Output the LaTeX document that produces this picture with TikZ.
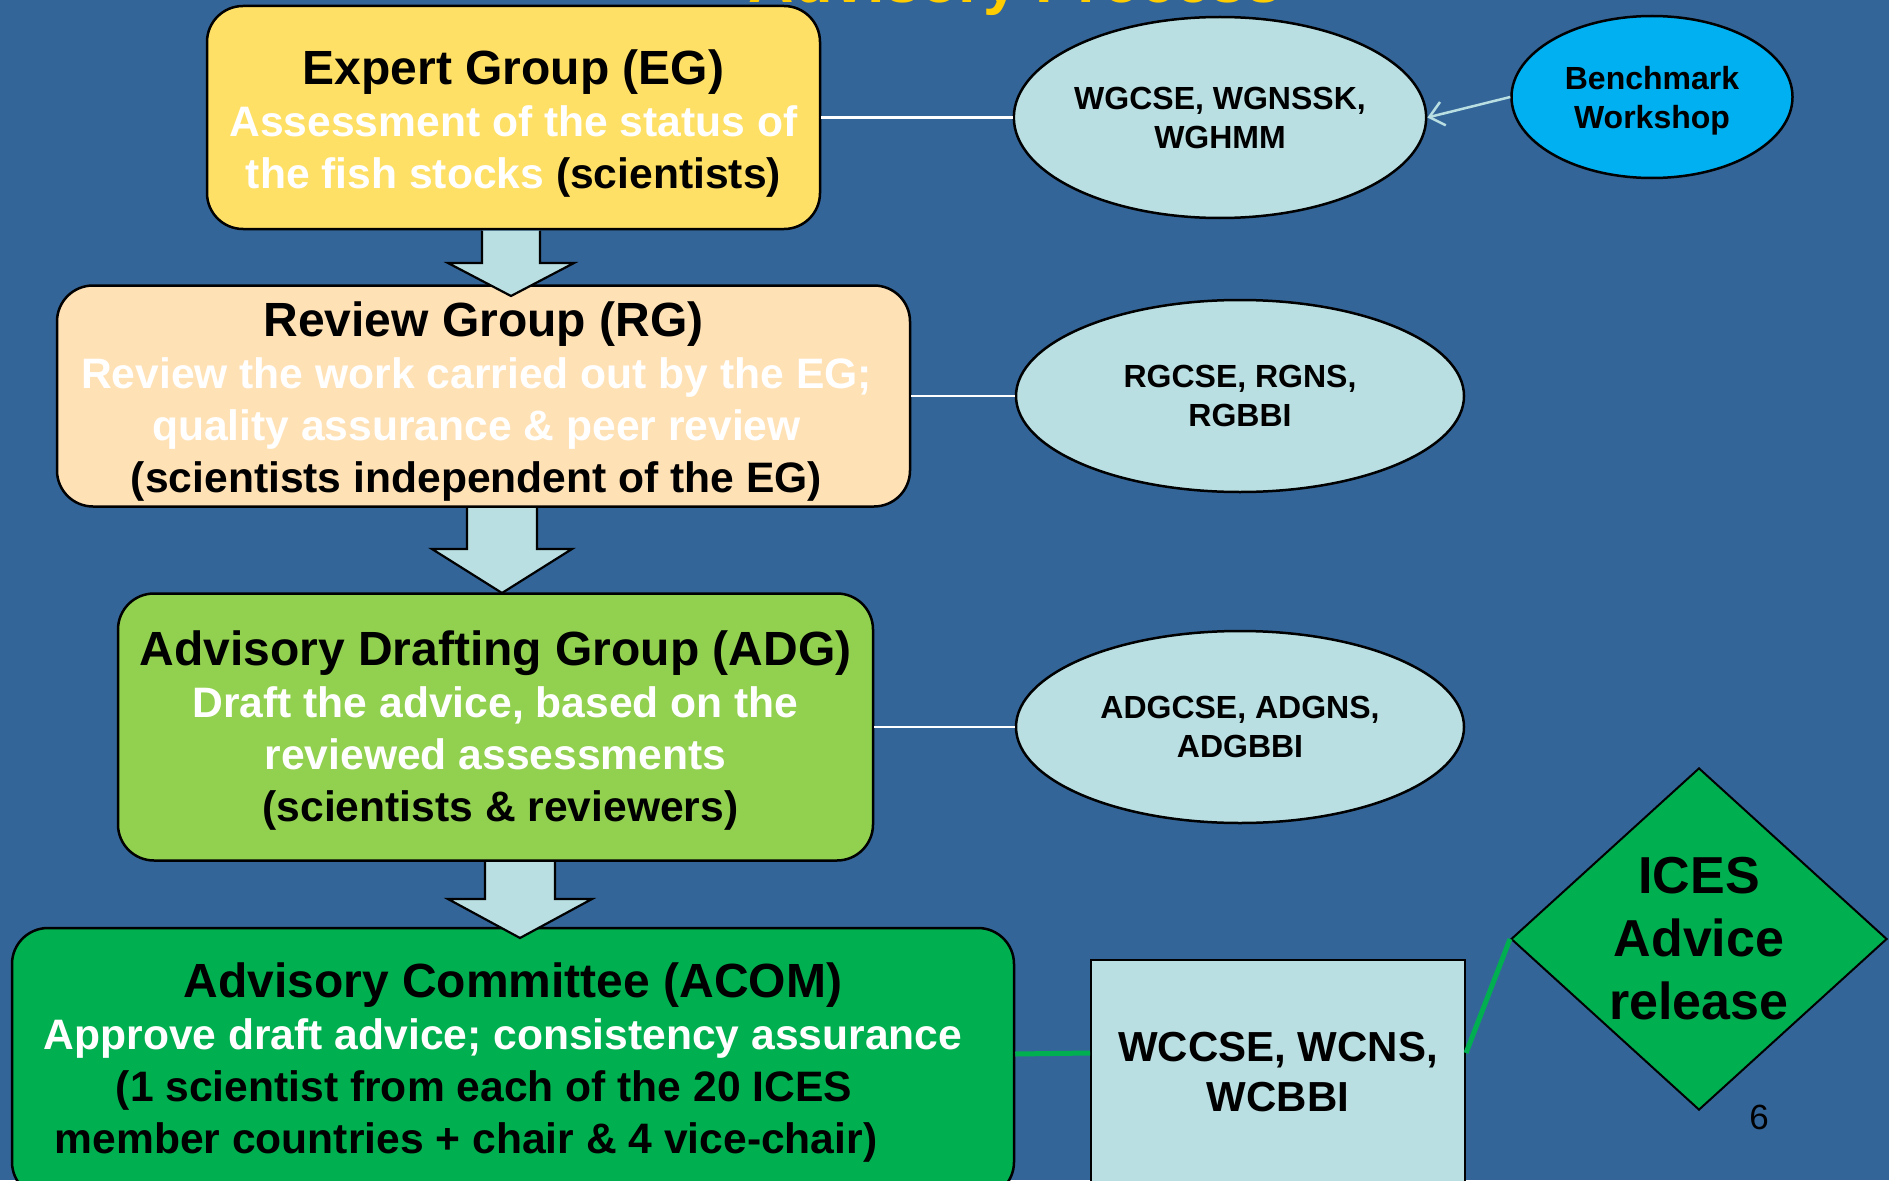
\documentclass[tikz,border=0pt]{standalone}
\usepackage{fontspec}
\setmainfont{Liberation Sans}
\usepackage{tikz}
\usetikzlibrary{shapes.geometric, arrows.meta}
\usepackage{xcolor}

\definecolor{slide}{HTML}{346598}
\definecolor{titleyellow}{HTML}{FFCC00}
\definecolor{egyellow}{HTML}{FFE066}
\definecolor{rgpeach}{HTML}{FFE1B6}
\definecolor{adglime}{HTML}{92D050}
\definecolor{acomgreen}{HTML}{00B050}
\definecolor{groupblue}{HTML}{B9DFE3}
\definecolor{benchblue}{HTML}{00B0F0}

% body text of the boxes, heading lines a bit larger
\newcommand{\headline}[1]{{\fontsize{48}{55}\selectfont #1}}
\newcommand{\wtext}[1]{\textcolor{white}{#1}}
% a line pushed to the left by half of #1
\newcommand{\leftby}[2]{\hbox{#2\kern#1}}

% block arrow between two stages: x, top, neck, tip, shaft half width, head half width
\newcommand{\blockarrow}[6]{%
  \filldraw[fill=groupblue, draw=black, line width=2.2pt, line join=miter]
    ({#1-#5},#2) -- ({#1-#5},#3) -- ({#1-#6},#3) -- (#1,#4)
    -- ({#1+#6},#3) -- ({#1+#5},#3) -- ({#1+#5},#2);}

\begin{document}
\begin{tikzpicture}[x=1pt, y=-1pt, font=\bfseries,
    stage/.style={draw=black, line width=2.5pt, rounded corners=36pt, align=center,
      inner sep=0pt, font=\bfseries\fontsize{42.6}{52}\selectfont},
    group/.style={ellipse, draw=black, line width=2.5pt, fill=groupblue, align=center,
      inner sep=0pt, font=\bfseries\fontsize{32}{39}\selectfont},
    link/.style={white, line width=2.5pt},
    greenlink/.style={acomgreen, line width=5pt}]

    % Page and slide background
    \useasboundingbox (0,0) rectangle (1889,1180);
    \clip (0,0) rectangle (1889,1180);
    \fill[slide] (0,0) rectangle (1889,1180);

    % Slide heading, mostly cut off at the top
    \node[anchor=base, text=titleyellow, font=\bfseries\fontsize{63}{70}\selectfont]
      (heading) at (1015,3) {Advisory Process};

    % The four stages
    \node[stage, fill=egyellow, minimum width=613pt, minimum height=223pt] (eg) at (513.5,117.5)
      {\rule{0pt}{46pt}\headline{Expert Group (EG)}\\
       \wtext{Assessment of the status of}\\
       \wtext{the fish stocks} (scientists)};
    \node[stage, fill=rgpeach, minimum width=853pt, minimum height=221pt] (rg) at (483.5,396)
      {\rule{0pt}{46pt}\headline{Review Group (RG)}\\
       \leftby{14pt}{\wtext{Review the work carried out by the EG;}}\\
       \leftby{14pt}{\wtext{quality assurance \& peer review}}\\
       \leftby{14pt}{(scientists independent of the EG)}};
    \node[stage, fill=adglime, minimum width=755pt, minimum height=267pt] (adg) at (495.5,727)
      {\rule{0pt}{41pt}\headline{Advisory Drafting Group (ADG)}\\
       \wtext{Draft the advice, based on the}\\
       \wtext{reviewed assessments}\\
       \hbox{\kern10pt(scientists \& reviewers)}};
    \node[stage, fill=acomgreen, minimum width=1002pt, minimum height=270pt] (acom) at (513,1063)
      {\headline{Advisory Committee (ACOM)}\\
       \leftby{20pt}{\wtext{Approve draft advice; consistency assurance}}\\
       \leftby{58pt}{(1 scientist from each of the 20 ICES}\\
       \leftby{94pt}{member countries + chair \& 4 vice-chair)}};

    % Groups working at each stage
    \node[group, minimum width=407pt, minimum height=201pt] (wg) at (1220,117.5)
      {WGCSE, WGNSSK,\\WGHMM};
    \node[group, fill=benchblue, minimum width=281pt, minimum height=162pt] (bench) at (1652,97)
      {\rule{0pt}{30pt}Benchmark\\Workshop};
    \node[group, minimum width=448pt, minimum height=192pt] (rgs) at (1240,396)
      {RGCSE, RGNS,\\RGBBI};
    \node[group, minimum width=448pt, minimum height=192pt] (adgs) at (1240,727)
      {ADGCSE, ADGNS,\\ADGBBI};
    \node[draw=black, line width=2pt, fill=groupblue, minimum width=374pt, minimum height=224pt,
      inner sep=0pt, align=center, font=\bfseries\fontsize{42}{50}\selectfont] (wc) at (1278,1072)
      {WCCSE, WCNS,\\WCBBI};
    \node[diamond, draw=black, line width=2pt, fill=acomgreen, minimum width=376pt,
      minimum height=341pt, inner sep=0pt, align=center,
      font=\bfseries\fontsize{52}{63}\selectfont] (release) at (1699,939)
      {ICES\\Advice\\release};

    % Slide number
    \node[font=\fontsize{35}{40}\selectfont] (pageno) at (1759,1117) {6};

    % Connectors
    \draw[link] (eg.east) -- (wg.west);
    \draw[link] (rg.east) -- (rgs.west);
    \draw[link] (adg.east) -- (adgs.west);
    \draw[groupblue, line width=2.5pt, -{Straight Barb[length=14pt, width=24pt]}]
      (bench.west) -- (wg.east);
    \draw[greenlink] ([yshift=9pt]acom.east) -- ([yshift=19pt]wc.west);
    \draw[greenlink] ([yshift=19pt]wc.east) -- (release.west);

    % Arrows from one stage down to the next
    \blockarrow{511}{230.5}{263}{296}{29}{63}
    \blockarrow{502}{508}{549}{593}{35}{70}
    \blockarrow{520}{862}{899}{938}{35}{72}
\end{tikzpicture}
\end{document}
